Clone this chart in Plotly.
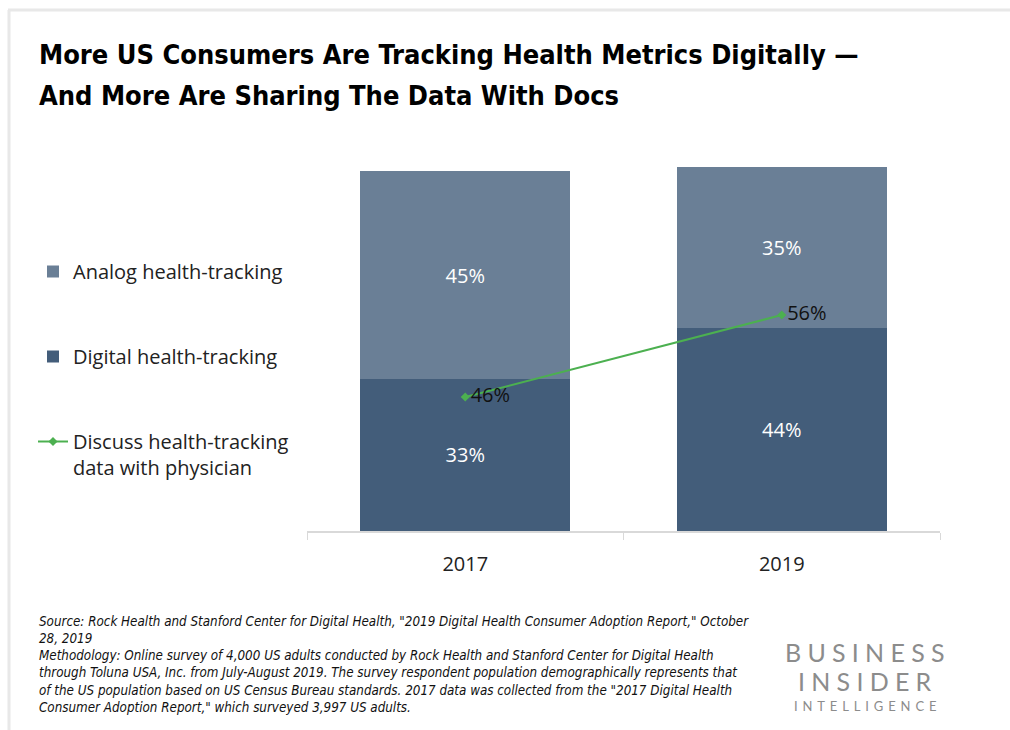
import plotly.graph_objects as go

# Survey data (share of US consumers)
years = ["2017", "2019"]
digital_tracking = [33, 44]
analog_tracking = [45, 35]
discuss_with_physician = [46, 56]

title_lines = ["More US Consumers Are Tracking Health Metrics Digitally —",
               "And More Are Sharing The Data With Docs"]
source_text = ("Source: Rock Health and Stanford Center for Digital Health, \"2019 Digital Health Consumer Adoption Report,\" October<br>"
               "28, 2019")
method_text = ("Methodology: Online survey of 4,000 US adults conducted by Rock Health and Stanford Center for Digital Health<br>"
               "through Toluna USA, Inc. from July-August 2019. The survey respondent population demographically represents that<br>"
               "of the US population based on US Census Bureau standards. 2017 data was collected from the \"2017 Digital Health<br>"
               "Consumer Adoption Report,\" which surveyed 3,997 US adults.")

W, H = 1010, 730
L, R, T, B = 307, 70, 116, 199  # plot area margins in px
PW, PH = W - L - R, H - T - B

DIGITAL = "#435d7a"
ANALOG = "#6a7f96"
GREEN = "#4cb050"
BODY_FONT = "Open Sans, Noto Sans, sans-serif"
NARROW = "Liberation Sans Narrow, DejaVu Sans Condensed, Liberation Sans, sans-serif"


def px_x(x):
    return (x - L) / PW


def px_y(y):
    return (H - B - y) / PH


fig = go.Figure()

fig.add_trace(go.Bar(
    x=years, y=digital_tracking, name="Digital health-tracking",
    marker=dict(color=DIGITAL, line=dict(width=0)),
    text=[f"{v}%" for v in digital_tracking], textposition="inside",
    insidetextanchor="middle",
    textfont=dict(color="white", size=20, family=BODY_FONT),
    legendgroup="b", legendrank=2,
))
fig.add_trace(go.Bar(
    x=years, y=analog_tracking, name="Analog health-tracking",
    marker=dict(color=ANALOG, line=dict(width=0)),
    text=[f"{v}%" for v in analog_tracking], textposition="inside",
    insidetextanchor="middle",
    textfont=dict(color="white", size=20, family=BODY_FONT),
    legendgroup="a", legendrank=1,
))
fig.add_trace(go.Scatter(
    x=years, y=discuss_with_physician, yaxis="y2",
    name="Discuss health-tracking<br>data with physician",
    mode="lines+markers+text",
    line=dict(color=GREEN, width=2),
    marker=dict(symbol="diamond", size=7, color=GREEN),
    text=[f"{v}%" for v in discuss_with_physician],
    textposition="middle right",
    textfont=dict(color="#111111", size=20, family=BODY_FONT),
    legendgroup="c", legendrank=3,
))

fig.update_layout(
    width=W, height=H,
    margin=dict(l=L, r=R, t=T, b=B),
    paper_bgcolor="white", plot_bgcolor="white",
    barmode="stack", bargap=0.337,
    showlegend=True,
    legend=dict(
        xref="container", yref="container",
        x=33 / W, y=1 - 252 / H, xanchor="left", yanchor="top",
        traceorder="grouped", tracegroupgap=56,
        valign="top",
        font=dict(size=20, color="#222222", family=BODY_FONT),
        itemwidth=30,
        bgcolor="rgba(0,0,0,0)",
    ),
    xaxis=dict(
        showline=True, linecolor="#d9d9d9", linewidth=1.5,
        ticks="outside", tickson="boundaries", ticklen=7, tickcolor="#d9d9d9",
        tickfont=dict(size=20, color="#222222", family=BODY_FONT),
        ticklabelstandoff=14,
        showgrid=False, fixedrange=True,
    ),
    yaxis=dict(range=[0, 90], visible=False, showgrid=False),
    yaxis2=dict(range=[29.66, 80.27], overlaying="y", visible=False, showgrid=False),
    font=dict(family=BODY_FONT),
)

# Title, one annotation per line for the wider line spacing
for line, cy in zip(title_lines, [55, 95]):
    fig.add_annotation(
        xref="paper", yref="paper", x=px_x(37), y=px_y(cy),
        xanchor="left", yanchor="middle", align="left", showarrow=False,
        text=f"<b>{line}</b>",
        font=dict(size=27, color="#000000", family=NARROW),
    )

# Footnotes
fig.add_annotation(
    xref="paper", yref="paper", x=px_x(37), y=px_y(612),
    xanchor="left", yanchor="top", align="left", showarrow=False,
    text=f"<i>{source_text}</i>",
    font=dict(size=13.3, color="#111111", family=NARROW),
)
fig.add_annotation(
    xref="paper", yref="paper", x=px_x(37), y=px_y(646),
    xanchor="left", yanchor="top", align="left", showarrow=False,
    text=f"<i>{method_text}</i>",
    font=dict(size=13.3, color="#111111", family=NARROW),
)

# Publisher mark
LOGO = "#8c8c8c"
thin = "\u2009"
for word, cy, size, sep in [("BUSINESS", 652, 25, thin * 2),
                            ("INSIDER", 681, 25, thin * 2),
                            ("INTELLIGENCE", 706, 13, thin * 3)]:
    fig.add_annotation(
        xref="paper", yref="paper", x=px_x(865), y=px_y(cy),
        xanchor="center", yanchor="middle", showarrow=False,
        text=sep.join(word),
        font=dict(size=size, color=LOGO, family="Lato, Open Sans, sans-serif", weight=400),
    )

# Light frame along the top and left edges
fig.add_shape(type="line", xref="paper", yref="paper",
              x0=px_x(8), x1=px_x(1010), y0=px_y(10), y1=px_y(10),
              line=dict(color="#e8e8e8", width=3), layer="below")
fig.add_shape(type="line", xref="paper", yref="paper",
              x0=px_x(9), x1=px_x(9), y0=px_y(10), y1=px_y(730),
              line=dict(color="#e8e8e8", width=3), layer="below")

fig.write_html("out.html")
